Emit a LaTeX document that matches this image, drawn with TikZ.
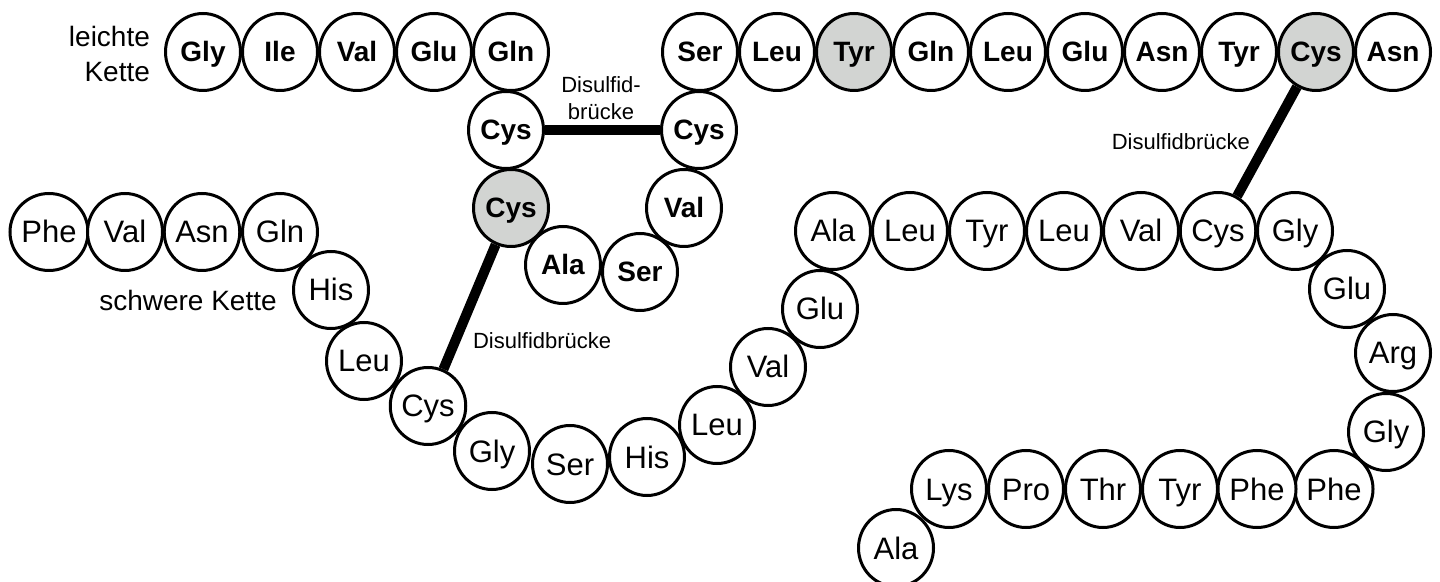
\documentclass[tikz,border=0pt]{standalone}
\usepackage{fontspec}
\setmainfont{Liberation Sans}
\usetikzlibrary{shapes.geometric}
\definecolor{markgrey}{RGB}{210,212,210}
\begin{document}
\begin{tikzpicture}[x=0.5pt, y=-0.5pt,
        amino/.style={ellipse, draw, line width=1.5pt, fill=white, minimum width=37.5pt, minimum height=38.5pt,
            inner sep=0pt, text height=11pt, text depth=0pt, font=\fontsize{15.5}{18}\selectfont},
        amino_b/.style={amino, text height=10pt, font=\fontsize{14}{17}\selectfont\bfseries},
        marked/.style={fill=markgrey},
        bridge/.style={line width=5pt},
        label_node/.style={font=\fontsize{14}{17.5}\selectfont},
        bridge_label/.style={font=\fontsize{11}{13.5}\selectfont}
    ]
    \useasboundingbox (0,0) rectangle (1440,582);

    % leichte Kette (A)
    \node[label_node, align=right, anchor=east] (lkette) at (157,54) {leichte\\Kette};
    \node[amino_b] (a1) at (203,52) {Gly};
    \node[amino_b] (a2) at (280,52) {Ile};
    \node[amino_b] (a3) at (357,52) {Val};
    \node[amino_b] (a4) at (434,52) {Glu};
    \node[amino_b] (a5) at (511,52) {Gln};
    \node[amino_b] (a6) at (506,130) {Cys};
    \node[amino_b, marked] (a7) at (511,208) {Cys};
    \node[amino_b] (a8) at (563,265) {Ala};
    \node[amino_b] (a9) at (640,272) {Ser};
    \node[amino_b] (a10) at (684,208) {Val};
    \node[amino_b] (a11) at (699,130) {Cys};
    \node[amino_b] (a12) at (700,52) {Ser};
    \node[amino_b] (a13) at (777,52) {Leu};
    \node[amino_b, marked] (a14) at (854,52) {Tyr};
    \node[amino_b] (a15) at (931,52) {Gln};
    \node[amino_b] (a16) at (1008,52) {Leu};
    \node[amino_b] (a17) at (1085,52) {Glu};
    \node[amino_b] (a18) at (1162,52) {Asn};
    \node[amino_b] (a19) at (1239,52) {Tyr};
    \node[amino_b, marked] (a20) at (1316,52) {Cys};
    \node[amino_b] (a21) at (1393,52) {Asn};

    % schwere Kette (B)
    \node[label_node] (skette) at (188,300) {schwere Kette};
    \node[amino] (b1) at (49,232) {Phe};
    \node[amino] (b2) at (125,232) {Val};
    \node[amino] (b3) at (202,232) {Asn};
    \node[amino] (b4) at (280,232) {Gln};
    \node[amino] (b5) at (331,290) {His};
    \node[amino] (b6) at (364,361) {Leu};
    \node[amino] (b7) at (428,406) {Cys};
    \node[amino] (b8) at (492,451) {Gly};
    \node[amino] (b9) at (570,464) {Ser};
    \node[amino] (b10) at (647,457) {His};
    \node[amino] (b11) at (717,425) {Leu};
    \node[amino] (b12) at (768,367) {Val};
    \node[amino] (b13) at (820,309) {Glu};
    \node[amino] (b14) at (833,231) {Ala};
    \node[amino] (b15) at (910,231) {Leu};
    \node[amino] (b16) at (987,231) {Tyr};
    \node[amino] (b17) at (1064,231) {Leu};
    \node[amino] (b18) at (1141,231) {Val};
    \node[amino] (b19) at (1218,231) {Cys};
    \node[amino] (b20) at (1295,231) {Gly};
    \node[amino] (b21) at (1347,289) {Glu};
    \node[amino] (b22) at (1393,353) {Arg};
    \node[amino] (b23) at (1386,432) {Gly};
    \node[amino] (b24) at (1334,489) {Phe};
    \node[amino] (b25) at (1257,489) {Phe};
    \node[amino] (b26) at (1180,489) {Tyr};
    \node[amino] (b27) at (1103,489) {Thr};
    \node[amino] (b28) at (1026,489) {Pro};
    \node[amino] (b29) at (949,489) {Lys};
    \node[amino] (b30) at (896,548) {Ala};

    % Disulfidbruecken
    \draw[bridge] (a6) -- (a11);
    \draw[bridge] (a7) -- (b7);
    \draw[bridge] (a20) -- (b19);
    \node[bridge_label, align=center] (dtop) at (601,98) {Disulfid-\\brücke};
    \node[bridge_label, anchor=west] (dlow) at (466,341) {Disulfidbrücke};
    \node[bridge_label, anchor=east] (dright) at (1257,142) {Disulfidbrücke};
\end{tikzpicture}
\end{document}
